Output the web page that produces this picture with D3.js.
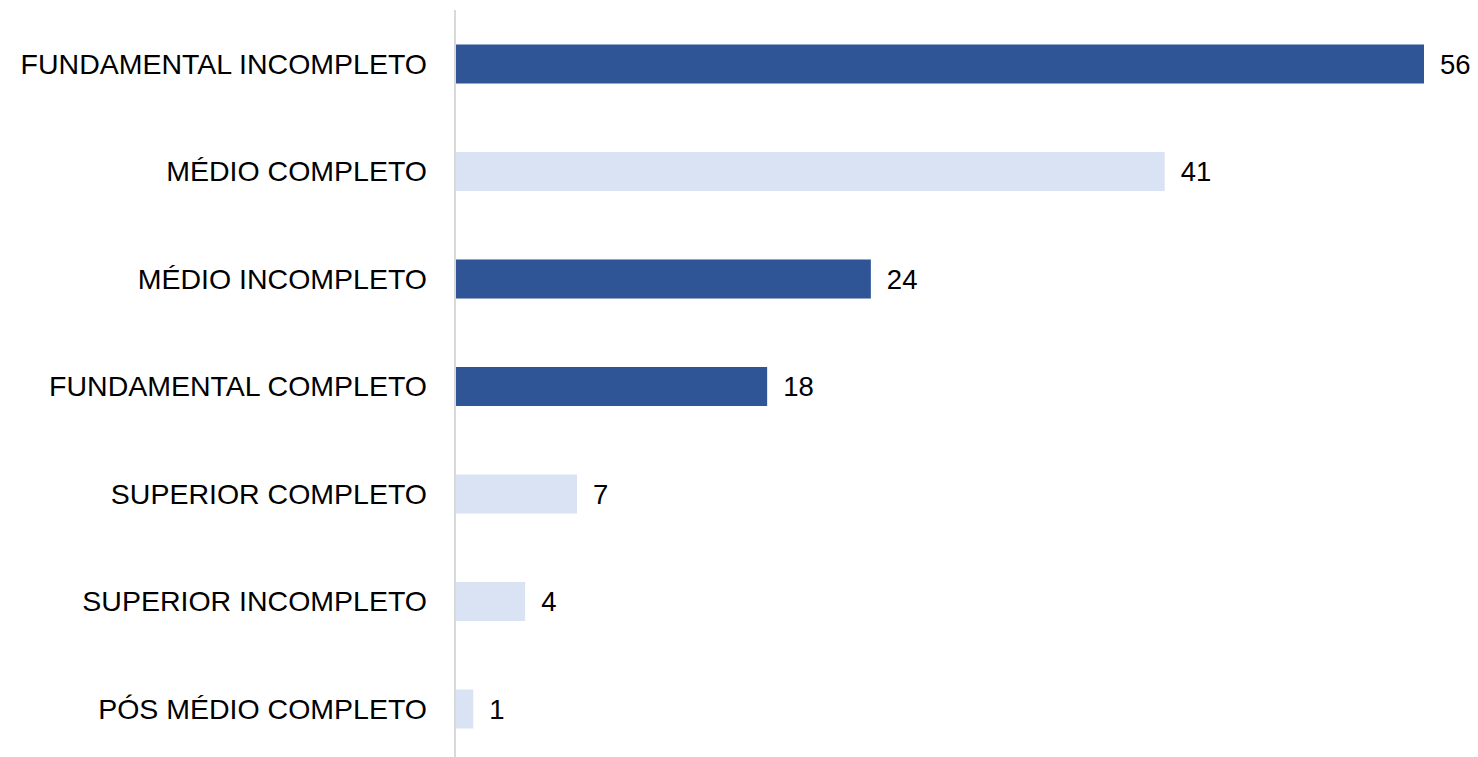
<!DOCTYPE html>
<html><head><meta charset="utf-8">
<script src="https://cdn.jsdelivr.net/npm/d3@7"></script>
<style>html,body{margin:0;padding:0;background:#fff;}svg{display:block;}</style>
</head><body>
<svg id="c" width="1478" height="757"></svg>
<script>
const categories = ["FUNDAMENTAL INCOMPLETO","MÉDIO COMPLETO","MÉDIO INCOMPLETO","FUNDAMENTAL COMPLETO","SUPERIOR COMPLETO","SUPERIOR INCOMPLETO","PÓS MÉDIO COMPLETO"];
const values = [56,41,24,18,7,4,1];
const highlight = [true,false,true,true,false,false,false];

const svg = d3.select("#c");
const x = d3.scaleLinear().domain([0,56]).range([456,1424]);
const y = d3.scaleBand().domain(categories).range([10.25,762.75]).paddingInner(0.637).paddingOuter(0.3185);
const font = "'Liberation Sans', Arial, sans-serif";

svg.append("line").attr("x1",455).attr("x2",455).attr("y1",10).attr("y2",757)
  .attr("stroke","#d9d9d9").attr("stroke-width",2);

svg.selectAll("rect.bar").data(categories).enter().append("rect")
  .attr("x",x(0)).attr("y",d=>y(d))
  .attr("width",(d,i)=>x(values[i])-x(0)).attr("height",y.bandwidth())
  .attr("fill",(d,i)=>highlight[i]?"#2F5597":"#DAE3F3");

svg.selectAll("text.cat").data(categories).enter().append("text")
  .attr("x",427).attr("y",d=>y(d)+y.bandwidth()/2).attr("dy","0.35em")
  .attr("text-anchor","end").attr("font-family",font).attr("font-size",28.5).attr("fill","#000")
  .text(d=>d);

svg.selectAll("text.val").data(categories).enter().append("text")
  .attr("x",(d,i)=>x(values[i])+16).attr("y",d=>y(d)+y.bandwidth()/2).attr("dy","0.35em")
  .attr("font-family",font).attr("font-size",27.5).attr("fill","#000")
  .text((d,i)=>values[i]);
</script>
</body></html>
